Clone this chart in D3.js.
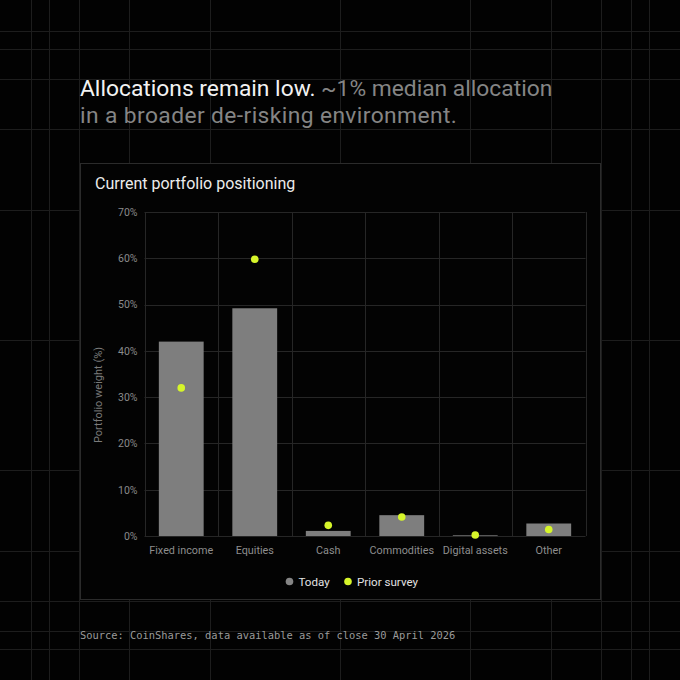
<!DOCTYPE html>
<html>
<head>
<meta charset="utf-8">
<script src="https://cdn.jsdelivr.net/npm/d3@7"></script>
<style>
    html, body { margin: 0; padding: 0; background: #000; }
    svg { display: block; }
</style>
</head>
<body>
<script>
// data
const categories = ["Fixed income", "Equities", "Cash", "Commodities", "Digital assets", "Other"];
const todayValues = [42.0, 49.2, 1.1, 4.5, 0.15, 2.7];
const priorValues = [32.0, 59.8, 2.3, 4.1, 0.2, 1.4];
const yTicks = [0, 10, 20, 30, 40, 50, 60, 70];
const legendLabels = ["Today", "Prior survey"];

// decorative frame lines behind the card
const frameLines = [31, 49, 79, 129, 210, 340, 470, 551, 601, 631, 649];

const W = 680, H = 680;
const font = "Roboto, 'Noto Sans', sans-serif";
const barColor = "#7e7e7e";
const dotColor = "#d6f52a";
const gridColor = "#262626";

const svg = d3.select("body")
    .append("svg")
    .attr("width", W)
    .attr("height", H);

svg.append("rect")
    .attr("width", W)
    .attr("height", H)
    .attr("fill", "#020202");

// background grid
const bg = svg.append("g").attr("stroke", "#1d1d1d").attr("stroke-width", 1);
frameLines.forEach(p => {
    bg.append("line").attr("x1", p + 0.5).attr("x2", p + 0.5).attr("y1", 0).attr("y2", H);
    bg.append("line").attr("y1", p + 0.5).attr("y2", p + 0.5).attr("x1", 0).attr("x2", W);
});

// headline
const title = svg.append("text")
    .attr("x", 80)
    .attr("y", 96)
    .attr("font-family", font)
    .attr("font-size", 22.8);
title.append("tspan").attr("fill", "#f2f2f2").text("Allocations remain low.");
title.append("tspan").attr("fill", "#858585").text(" ~1% median allocation");

svg.append("text")
    .attr("x", 80)
    .attr("y", 123)
    .attr("font-family", font)
    .attr("font-size", 22.8)
    .attr("letter-spacing", 0.4)
    .attr("fill", "#858585")
    .text("in a broader de-risking environment.");

// card
svg.append("rect")
    .attr("x", 80.5)
    .attr("y", 163.5)
    .attr("width", 520)
    .attr("height", 436)
    .attr("fill", "#030303")
    .attr("stroke", "#2b2b2b");

svg.append("text")
    .attr("x", 95)
    .attr("y", 189)
    .attr("font-family", font)
    .attr("font-size", 16)
    .attr("fill", "#ececec")
    .text("Current portfolio positioning");

// plot
const plot = { left: 144.5, right: 585.5, top: 212, bottom: 536 };

const x = d3.scaleBand()
    .domain(categories)
    .range([plot.left, plot.right])
    .padding(0);

const y = d3.scaleLinear()
    .domain([0, 70])
    .range([plot.bottom, plot.top]);

const grid = svg.append("g").attr("stroke", gridColor).attr("stroke-width", 1);

grid.selectAll("line.h")
    .data(yTicks)
    .enter().append("line")
    .attr("class", "h")
    .attr("x1", plot.left)
    .attr("x2", plot.right)
    .attr("y1", d => Math.round(y(d)) + 0.5)
    .attr("y2", d => Math.round(y(d)) + 0.5);

const bounds = categories.map(c => x(c)).concat([plot.right]);
grid.selectAll("line.v")
    .data(bounds)
    .enter().append("line")
    .attr("class", "v")
    .attr("x1", d => Math.round(d) + 0.5)
    .attr("x2", d => Math.round(d) + 0.5)
    .attr("y1", plot.top)
    .attr("y2", plot.bottom);

const yAxis = svg.append("g")
    .attr("transform", `translate(${plot.left},0)`)
    .call(d3.axisLeft(y).tickValues(yTicks).tickFormat(d => d + "%").tickSize(0).tickPadding(7));
yAxis.select(".domain").remove();
yAxis.selectAll("text")
    .attr("font-family", font)
    .attr("font-size", 10.5)
    .attr("fill", "#8a8a8a");

const xAxis = svg.append("g")
    .attr("transform", `translate(0,${plot.bottom})`)
    .call(d3.axisBottom(x).tickSize(0).tickPadding(10));
xAxis.select(".domain").remove();
xAxis.selectAll("text")
    .attr("font-family", font)
    .attr("font-size", 10.8)
    .attr("fill", "#8e8e8e");

svg.append("text")
    .attr("transform", `translate(102,395) rotate(-90)`)
    .attr("text-anchor", "middle")
    .attr("font-family", font)
    .attr("font-size", 11)
    .attr("fill", "#7a7a7a")
    .text("Portfolio weight (%)");

const barW = x.bandwidth() * 0.61;

svg.append("g")
    .selectAll("rect")
    .data(categories)
    .enter().append("rect")
    .attr("x", d => x(d) + (x.bandwidth() - barW) / 2)
    .attr("width", barW)
    .attr("y", (d, i) => y(todayValues[i]))
    .attr("height", (d, i) => y(0) - y(todayValues[i]))
    .attr("fill", barColor);

svg.append("g")
    .selectAll("circle")
    .data(categories)
    .enter().append("circle")
    .attr("cx", d => x(d) + x.bandwidth() / 2)
    .attr("cy", (d, i) => y(priorValues[i]))
    .attr("r", 3.8)
    .attr("fill", dotColor);

// legend
const legendX = [289.5, 348];
const legend = svg.append("g");
legendLabels.forEach((label, i) => {
    legend.append("circle")
        .attr("cx", legendX[i])
        .attr("cy", 581.5)
        .attr("r", 3.8)
        .attr("fill", i === 0 ? "#858585" : dotColor);
    legend.append("text")
        .attr("x", legendX[i] + 9)
        .attr("y", 585.8)
        .attr("font-family", font)
        .attr("font-size", 11.6)
        .attr("fill", "#e2e2e2")
        .text(label);
});

// source note
svg.append("text")
    .attr("x", 80)
    .attr("y", 638.5)
    .attr("font-family", "'DejaVu Sans Mono', 'Liberation Mono', monospace")
    .attr("font-size", 10.4)
    .attr("fill", "#9a9a9a")
    .text("Source: CoinShares, data available as of close 30 April 2026");
</script>
</body>
</html>
